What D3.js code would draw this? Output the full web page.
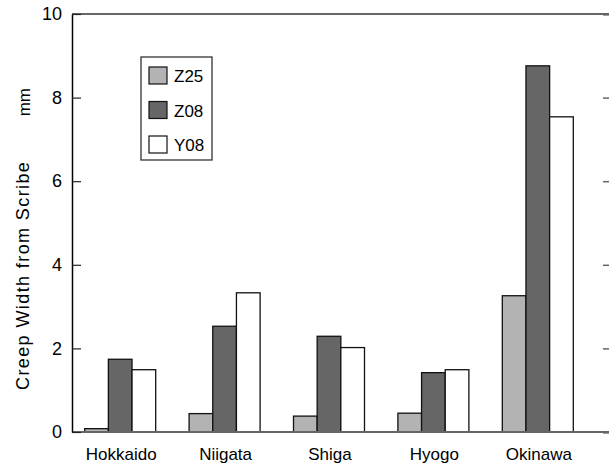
<!DOCTYPE html>
<html>
<head>
<meta charset="utf-8">
<script src="https://cdn.jsdelivr.net/npm/d3@7"></script>
<style>
  html, body { margin: 0; padding: 0; background: #fff; }
  svg { display: block; font-family: "Liberation Sans", Arial, sans-serif; }
</style>
</head>
<body>
<svg id="chart" width="609" height="465"></svg>
<script>
// Creep width from scribe (mm) by exposure site and coating system
const sites = ["Hokkaido", "Niigata", "Shiga", "Hyogo", "Okinawa"];
const seriesNames = ["Z25", "Z08", "Y08"];
const z25 = [0.08, 0.44, 0.38, 0.45, 3.26];
const z08 = [1.74, 2.53, 2.29, 1.42, 8.76];
const y08 = [1.49, 3.33, 2.02, 1.49, 7.54];
const yTicks = [0, 2, 4, 6, 8, 10];
const seriesFill = { Z25: "#b3b3b3", Z08: "#666666", Y08: "#ffffff" };

const seriesValues = { Z25: z25, Z08: z08, Y08: y08 };
const rows = sites.map((s, i) => ({ site: s, values: seriesNames.map(n => ({ key: n, value: seriesValues[n][i] })) }));

const svg = d3.select("#chart");
const plot = { left: 72, right: 612, top: 14, bottom: 432 };

const y = d3.scaleLinear().domain([0, 10]).range([plot.bottom, plot.top]);
const x = d3.scaleBand().domain(sites).range([68, 590]).paddingInner(0.32).paddingOuter(0.16);
const xSub = d3.scaleBand().domain(seriesNames).range([0, x.bandwidth()]);

// Bars
const groups = svg.append("g").selectAll("g").data(rows).join("g")
  .attr("transform", d => `translate(${x(d.site)},0)`);
groups.selectAll("rect").data(d => d.values).join("rect")
  .attr("x", d => xSub(d.key))
  .attr("y", d => y(d.value))
  .attr("width", xSub.bandwidth())
  .attr("height", d => y(0) - y(d.value))
  .attr("fill", d => seriesFill[d.key])
  .attr("stroke", "#111")
  .attr("stroke-width", 1.3);

// Frame: top and bottom in grey, left axis in black
svg.append("line").attr("x1", plot.left).attr("x2", plot.right)
  .attr("y1", plot.top).attr("y2", plot.top).attr("stroke", "#666").attr("stroke-width", 2);
svg.append("line").attr("x1", plot.left).attr("x2", plot.right)
  .attr("y1", plot.bottom).attr("y2", plot.bottom).attr("stroke", "#666").attr("stroke-width", 2);

// Left axis with inward ticks
const yAxis = svg.append("g").attr("transform", `translate(${plot.left},0)`)
  .call(d3.axisLeft(y).tickValues(yTicks).tickSize(-9).tickPadding(10).tickSizeOuter(0));
yAxis.select(".domain").attr("stroke", "#000").attr("stroke-width", 1.5);
yAxis.selectAll(".tick line").attr("stroke", "#222").attr("stroke-width", 1.2);
yAxis.selectAll(".tick text").attr("font-size", 18).attr("fill", "#000")
  .attr("font-family", "Liberation Sans, Arial, sans-serif");

// Right-side ticks pointing inward (frame edge lies just past the canvas)
const rAxis = svg.append("g").attr("transform", `translate(${plot.right},0)`)
  .call(d3.axisRight(y).tickValues(yTicks).tickSize(-9).tickFormat(""));
rAxis.select(".domain").attr("stroke", "#666").attr("stroke-width", 2);
rAxis.selectAll(".tick line").attr("stroke", "#666").attr("stroke-width", 1.5);

// Category labels
svg.append("g").selectAll("text").data(sites).join("text")
  .attr("x", d => x(d) + x.bandwidth() / 2 + 1)
  .attr("y", 460)
  .attr("text-anchor", "middle")
  .attr("font-size", 17)
  .text(d => d);

// Y axis title, with the unit set apart toward the top
svg.append("text")
  .attr("transform", "translate(29,390) rotate(-90)")
  .attr("text-anchor", "start")
  .attr("font-size", 18)
  .attr("letter-spacing", 1.4)
  .text("Creep Width from Scribe");
svg.append("text")
  .attr("transform", "translate(30,88) rotate(-90)")
  .attr("text-anchor", "end")
  .attr("font-size", 17)
  .text("mm");

// Legend
const legend = svg.append("g");
legend.append("rect").attr("x", 141).attr("y", 57).attr("width", 71).attr("height", 103)
  .attr("fill", "#fff").attr("stroke", "#333").attr("stroke-width", 1.3);
const item = legend.selectAll("g").data(seriesNames).join("g")
  .attr("transform", (d, i) => `translate(149,${67 + i * 34.5})`);
item.append("rect").attr("width", 18).attr("height", 17)
  .attr("fill", d => seriesFill[d]).attr("stroke", "#111").attr("stroke-width", 1.2);
item.append("text").attr("x", 25).attr("y", 15).attr("font-size", 17).text(d => d);
</script>
</body>
</html>
